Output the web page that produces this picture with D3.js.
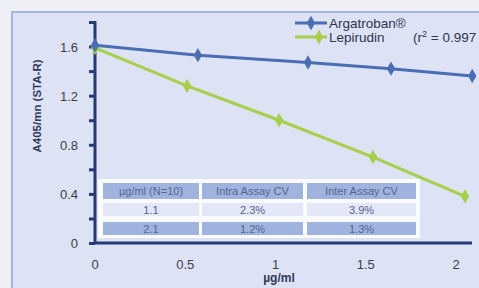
<!DOCTYPE html>
<html>
<head>
<meta charset="utf-8">
<script src="https://cdn.jsdelivr.net/npm/d3@7"></script>
<style>
  body { margin: 0; background: #eef0f6; }
  svg { display: block; font-family: "Liberation Sans", Arial, sans-serif; }
</style>
</head>
<body>
<svg id="chart" width="479" height="288"></svg>
<script>
// data
const argX = [0, 0.57, 1.18, 1.64, 2.09];
const argY = [1.61, 1.53, 1.47, 1.42, 1.36];
const lepX = [0, 0.51, 1.02, 1.54, 2.05];
const lepY = [1.59, 1.28, 1.00, 0.70, 0.38];
const xTicks = [0, 0.5, 1, 1.5, 2];
const yTicks = [0, 0.4, 0.8, 1.2, 1.6];
const yMinor = [0.2, 0.6, 1.0, 1.4, 1.8];
const seriesNames = ["Argatroban\u00AE", "Lepirudin"];
const tableHead = ["\u00B5g/ml (N=10)", "Intra Assay CV", "Inter Assay CV"];
const tableRows = [["1.1", "2.3%", "3.9%"], ["2.1", "1.2%", "1.3%"]];

const svg = d3.select("#chart");

// panel
svg.append("rect").attr("x", 12).attr("y", 12).attr("width", 480).attr("height", 290)
  .attr("fill", "#dde2f4").attr("stroke", "#a7b6df").attr("stroke-width", 2);

const x = d3.scaleLinear().domain([0, 2]).range([95, 456]);
const y = d3.scaleLinear().domain([0, 1.8]).range([243, 22]);

// table (drawn under the lines)
const colX = [103, 202, 307], colW = [96, 101, 109];
const rowY = [183, 203, 222], rowH = [16, 13, 13];
const tbl = svg.append("g");
tbl.append("rect").attr("x", 98).attr("y", 179).attr("width", 322).attr("height", 59).attr("fill", "#fafbfe");
const rows = [tableHead].concat(tableRows);
rows.forEach((r, i) => {
  r.forEach((t, j) => {
    tbl.append("rect").attr("x", colX[j]).attr("y", rowY[i]).attr("width", colW[j]).attr("height", rowH[i])
      .attr("fill", i === 1 ? "#e3e7f6" : "#9fb3de");
    tbl.append("text").attr("x", colX[j] + colW[j] / 2).attr("y", rowY[i] + rowH[i] / 2 + 4)
      .attr("text-anchor", "middle").attr("font-size", 11).attr("fill", "#56658f").text(t);
  });
});

// axes
const axisColor = "#253a72";
const yAxis = svg.append("g").attr("transform", "translate(95,0)")
  .call(d3.axisLeft(y).tickValues(yTicks.concat(yMinor)).tickSize(6).tickFormat(""));
yAxis.select(".domain").remove();
yAxis.selectAll("line").attr("stroke", axisColor).attr("stroke-width", 3);
svg.append("line").attr("x1", 95).attr("x2", 95).attr("y1", y(1.8) - 1).attr("y2", 244)
  .attr("stroke", axisColor).attr("stroke-width", 3);
svg.append("line").attr("x1", 94).attr("x2", 472).attr("y1", 243).attr("y2", 243)
  .attr("stroke", axisColor).attr("stroke-width", 3);

svg.append("g").selectAll("text").data(yTicks).join("text")
  .attr("x", 78).attr("y", d => y(d) + 5).attr("text-anchor", "end")
  .attr("font-size", 13).attr("fill", "#3a3f4a")
  .text(d => d === 0 ? "0" : d3.format(".1f")(d));
svg.append("g").selectAll("text").data(xTicks).join("text")
  .attr("x", d => x(d)).attr("y", 269).attr("text-anchor", "middle")
  .attr("font-size", 13).attr("fill", "#3a3f4a").text(d => d);

svg.append("text").attr("transform", "translate(41,106) rotate(-90)").attr("text-anchor", "middle")
  .attr("font-size", 11.5).attr("font-weight", "bold").attr("fill", "#2e3a5a").text("A405/mn (STA-R)");
svg.append("text").attr("x", 279).attr("y", 282).attr("text-anchor", "middle")
  .attr("font-size", 12).attr("font-weight", "bold").attr("fill", "#2e3a5a").text("\u00B5g/ml");

// series
const diamond = d3.symbol().type(d3.symbolDiamond).size(60);
const series = [
  { name: seriesNames[0], xs: argX, ys: argY, color: "#4a6db3" },
  { name: seriesNames[1], xs: lepX, ys: lepY, color: "#a6cf4a" }
];
series.slice().reverse().forEach(s => {
  const pts = s.xs.map((v, i) => [x(v), y(s.ys[i])]);
  svg.append("path").attr("d", d3.line()(pts)).attr("fill", "none")
    .attr("stroke", s.color).attr("stroke-width", 3);
  svg.append("g").selectAll("path").data(pts).join("path")
    .attr("d", diamond).attr("transform", d => `translate(${d[0]},${d[1]})`).attr("fill", s.color);
});

// legend
series.forEach((s, i) => {
  const ly = 23 + i * 14;
  svg.append("line").attr("x1", 295).attr("x2", 327).attr("y1", ly).attr("y2", ly)
    .attr("stroke", s.color).attr("stroke-width", 3);
  svg.append("path").attr("d", diamond).attr("transform", `translate(${i ? 319 : 311},${ly})`).attr("fill", s.color);
  svg.append("text").attr("x", 329).attr("y", ly + 5).attr("font-size", 13.5).attr("fill", "#2e3550").text(s.name);
});
svg.append("text").attr("x", 413).attr("y", 42).attr("font-size", 13.5).attr("fill", "#2e3550")
  .html("(r<tspan font-size='9' dy='-5'>2</tspan><tspan dy='5'> = 0.997</tspan>");
</script>
</body>
</html>
